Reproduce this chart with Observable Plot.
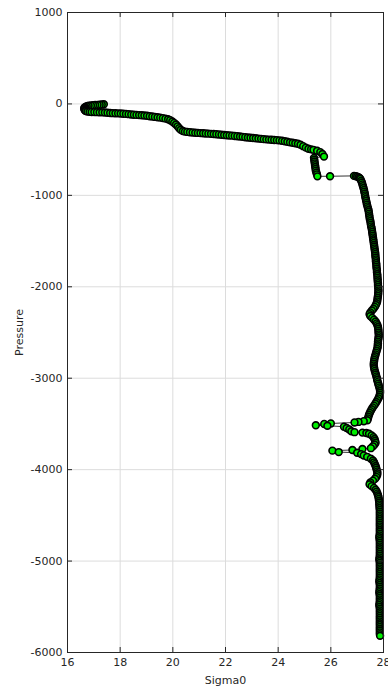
<!DOCTYPE html>
<html>
<head>
<meta charset="utf-8">
<script src="https://cdn.jsdelivr.net/npm/d3@7"></script>
<script src="https://cdn.jsdelivr.net/npm/@observablehq/plot@0.6"></script>
<style>
  html, body { margin: 0; padding: 0; background: #fff; }
  #chart { width: 388px; height: 695px; }
</style>
</head>
<body>
<div id="chart"></div>
<script>
// Tick values
const xTicks = [16, 18, 20, 22, 24, 26, 28];
const yTicks = [1000, 0, -1000, -2000, -3000, -4000, -5000, -6000];

// Profile readings: [Sigma0, Pressure], ordered from the surface downwards
const surfaceLayer = [
  [17.38,-4],[17.3,-6],[17.22,-8],[17.14,-10],[17.05,-12],[16.97,-14],[16.89,-17],[16.8,-20],
  [16.73,-25],[16.68,-32],[16.65,-40],[16.64,-48],[16.64,-56],[16.65,-64],[16.67,-72],[16.7,-78],
  [16.76,-83],[16.84,-86]
];
const upperThermocline = [
  [16.92,-88],[17.02,-89],[17.12,-90],[17.22,-91],[17.32,-92],[17.42,-94],[17.52,-96],[17.62,-99],
  [17.72,-101],[17.82,-102],[17.92,-103],[18.02,-105],[18.12,-107],[18.22,-109],[18.32,-112],[18.42,-116],
  [18.52,-118],[18.62,-120],[18.72,-122],[18.82,-124],[18.92,-127],[19.02,-130],[19.12,-134],[19.22,-138],
  [19.32,-142],[19.42,-146],[19.52,-150],[19.62,-155],[19.72,-161],[19.82,-168],[19.9,-178],[19.98,-192],
  [20.05,-208],[20.12,-225],[20.18,-245],[20.24,-265],[20.3,-283],[20.38,-296],[20.46,-303]
];
const lowerThermocline = [
  [20.55,-306],[20.65,-309],[20.75,-312],[20.85,-315],[20.95,-317],[21.05,-319],[21.15,-321],[21.25,-323],
  [21.35,-325],[21.45,-327],[21.55,-329],[21.65,-331],[21.75,-334],[21.85,-337],[21.95,-340],[22.05,-343],
  [22.15,-345],[22.25,-347],[22.35,-350],[22.45,-353],[22.55,-356],[22.65,-360],[22.75,-364],[22.85,-367],
  [22.95,-370],[23.05,-373],[23.15,-376],[23.25,-379],[23.35,-382],[23.45,-385],[23.55,-388],[23.65,-390],
  [23.75,-392],[23.85,-394],[23.95,-396],[24.05,-399],[24.15,-403],[24.25,-408],[24.35,-414],[24.45,-420],
  [24.55,-425],[24.65,-430],[24.75,-436],[24.85,-447],[24.95,-462],[25.05,-478],[25.15,-490],[25.25,-497],
  [25.34,-502],[25.48,-512],[25.6,-527],[25.68,-548],[25.74,-576]
];
const stepLayer = [
  [25.36,-590],[25.37,-610],[25.38,-630],[25.39,-650],[25.4,-670],[25.41,-690],[25.42,-710],[25.43,-730],
  [25.45,-750],[25.47,-770],[25.49,-792],[25.97,-791],[26.88,-787],[26.95,-790],[27.0,-795],[27.05,-802],
  [27.09,-810]
];
const intermediateWater = [
  [27.12,-820],[27.15,-840],[27.18,-860],[27.2,-880],[27.22,-900],[27.24,-920],[27.26,-940],[27.27,-960],
  [27.29,-980],[27.3,-1000],[27.31,-1020],[27.33,-1040],[27.34,-1060],[27.36,-1080],[27.37,-1100],[27.39,-1120],
  [27.41,-1140],[27.43,-1160],[27.44,-1180],[27.45,-1200],[27.46,-1220],[27.47,-1240],[27.48,-1260],[27.5,-1280],
  [27.51,-1300],[27.52,-1320],[27.53,-1340],[27.55,-1360],[27.56,-1380],[27.57,-1400],[27.58,-1420],[27.59,-1440],
  [27.6,-1460],[27.61,-1480],[27.62,-1500],[27.63,-1520],[27.64,-1540],[27.65,-1560],[27.66,-1580],[27.67,-1600],
  [27.68,-1620],[27.69,-1640],[27.69,-1660],[27.7,-1680],[27.71,-1700],[27.71,-1720],[27.72,-1740],[27.73,-1760],
  [27.73,-1780],[27.74,-1800],[27.75,-1820],[27.75,-1840],[27.76,-1860],[27.77,-1880],[27.77,-1900],[27.78,-1920],
  [27.78,-1940],[27.79,-1960],[27.79,-1980],[27.8,-2000],[27.8,-2020],[27.81,-2040],[27.8,-2060],[27.8,-2080],
  [27.79,-2100],[27.78,-2120],[27.77,-2140],[27.76,-2160],[27.74,-2180],[27.71,-2200],[27.67,-2220],[27.62,-2240],
  [27.56,-2260],[27.5,-2280],[27.47,-2300],[27.5,-2320],[27.57,-2340],[27.64,-2360],[27.7,-2380],[27.74,-2400],
  [27.77,-2420],[27.79,-2440],[27.8,-2460],[27.81,-2480],[27.81,-2500],[27.82,-2520],[27.82,-2540],[27.81,-2560],
  [27.8,-2580],[27.79,-2600],[27.79,-2620],[27.78,-2640],[27.78,-2660],[27.76,-2680],[27.74,-2700],[27.72,-2720],
  [27.7,-2740],[27.68,-2760],[27.66,-2780],[27.65,-2800],[27.64,-2820],[27.63,-2840],[27.63,-2860],[27.64,-2880],
  [27.65,-2900],[27.67,-2920],[27.69,-2940],[27.71,-2960],[27.73,-2980],[27.75,-3000],[27.76,-3020],[27.78,-3040],
  [27.8,-3060],[27.82,-3080],[27.84,-3100],[27.86,-3120],[27.87,-3140],[27.87,-3160],[27.86,-3180],[27.84,-3200],
  [27.81,-3220],[27.77,-3240],[27.73,-3260],[27.69,-3280],[27.64,-3300],[27.59,-3320],[27.55,-3340],[27.51,-3360],
  [27.48,-3380],[27.45,-3400],[27.43,-3420],[27.41,-3440],[27.39,-3460]
];
const deepExcursions = [
  [27.25,-3470],[27.05,-3478],[26.9,-3484],[26.0,-3495],[25.75,-3500],[25.43,-3515],[25.87,-3520],[26.5,-3530],
  [26.6,-3545],[26.7,-3560],[26.78,-3580],[26.9,-3590],[27.2,-3595],[27.35,-3600],[27.45,-3608],[27.55,-3625],
  [27.62,-3645],[27.66,-3665],[27.68,-3685],[27.7,-3705],[27.66,-3725],[27.6,-3745],[27.52,-3765],[27.2,-3775],
  [26.82,-3785],[26.06,-3792],[26.3,-3808],[27.0,-3815],[27.15,-3830],[27.25,-3845],[27.38,-3860],[27.52,-3880],
  [27.6,-3900],[27.64,-3920],[27.67,-3940],[27.7,-3960],[27.72,-3980],[27.74,-4000],[27.76,-4020],[27.77,-4040],
  [27.76,-4060],[27.73,-4080],[27.68,-4100],[27.6,-4120],[27.5,-4140],[27.47,-4160],[27.55,-4180],[27.64,-4200],
  [27.7,-4220],[27.74,-4240],[27.77,-4260],[27.79,-4280],[27.81,-4300],[27.82,-4320],[27.83,-4340],[27.84,-4360],
  [27.84,-4380]
];
const bottomWater = [
  [27.85,-4400],[27.85,-4420],[27.86,-4440],[27.86,-4460],[27.86,-4480],[27.86,-4500],[27.86,-4520],[27.86,-4540],
  [27.86,-4560],[27.86,-4580],[27.86,-4600],[27.86,-4620],[27.86,-4640],[27.86,-4660],[27.86,-4680],[27.86,-4700],
  [27.85,-4720],[27.84,-4740],[27.85,-4760],[27.86,-4780],[27.86,-4800],[27.86,-4820],[27.86,-4840],[27.86,-4860],
  [27.86,-4880],[27.86,-4900],[27.86,-4920],[27.86,-4940],[27.85,-4960],[27.84,-4980],[27.85,-5000],[27.86,-5020],
  [27.86,-5040],[27.86,-5060],[27.86,-5080],[27.86,-5100],[27.86,-5120],[27.86,-5140],[27.86,-5160],[27.86,-5180],
  [27.85,-5200],[27.84,-5220],[27.85,-5240],[27.86,-5260],[27.86,-5280],[27.86,-5300],[27.85,-5320],[27.84,-5340],
  [27.85,-5360],[27.86,-5380],[27.86,-5400],[27.86,-5420],[27.86,-5440],[27.85,-5460],[27.84,-5480],[27.85,-5500],
  [27.86,-5520],[27.86,-5540],[27.86,-5560],[27.86,-5580],[27.86,-5600],[27.86,-5620],[27.86,-5640],[27.86,-5660],
  [27.86,-5680],[27.86,-5700],[27.86,-5720],[27.86,-5740],[27.86,-5760],[27.86,-5780],[27.86,-5800],[27.87,-5817]
];

const profile = [
  ...surfaceLayer, ...upperThermocline, ...lowerThermocline, ...stepLayer,
  ...intermediateWater, ...deepExcursions, ...bottomWater
].map(([s, p]) => ({sigma0: s, pressure: p}));

const W = 388, H = 695;
const mT = 12, mB = 43, mL = 67, mR = 5;
const plotW = W - mL - mR, plotH = H - mT - mB;
const tickLen = 5;
const ink = "#262626";
const fmt = d => String(d);

const chart = Plot.plot({
  width: W,
  height: H,
  marginTop: mT,
  marginBottom: mB,
  marginLeft: mL,
  marginRight: mR,
  style: {fontFamily: "DejaVu Sans, sans-serif", fontSize: "11px", color: ink, background: "#fff"},
  x: {domain: [16, 28]},
  y: {domain: [-6000, 1000]},
  marks: [
    Plot.gridX(xTicks, {stroke: "#dcdcdc", strokeOpacity: 1}),
    Plot.gridY(yTicks, {stroke: "#dcdcdc", strokeOpacity: 1}),
    Plot.line(profile, {x: "sigma0", y: "pressure", stroke: "black", strokeWidth: 0.8}),
    Plot.dot(profile, {x: "sigma0", y: "pressure", r: 3.4, fill: "#00ee00", stroke: "black", strokeWidth: 1.6}),
    Plot.frame({stroke: ink, strokeWidth: 1}),
    Plot.tickX(xTicks, {x: d => d, stroke: ink, insetTop: plotH - tickLen}),
    Plot.tickX(xTicks, {x: d => d, stroke: ink, insetBottom: plotH - tickLen}),
    Plot.tickY(yTicks, {y: d => d, stroke: ink, insetRight: plotW - tickLen}),
    Plot.tickY(yTicks, {y: d => d, stroke: ink, insetLeft: plotW - tickLen}),
    Plot.axisX(xTicks, {anchor: "bottom", tickSize: 0, tickPadding: 6, tickFormat: fmt,
      label: "Sigma0", labelAnchor: "center", labelArrow: false, labelOffset: 31, fill: ink}),
    Plot.axisY(yTicks, {anchor: "left", tickSize: 0, tickPadding: 5, tickFormat: fmt,
      label: "Pressure", labelAnchor: "center", labelArrow: false, labelOffset: 52, fill: ink})
  ]
});
document.getElementById("chart").appendChild(chart);
</script>
</body>
</html>
